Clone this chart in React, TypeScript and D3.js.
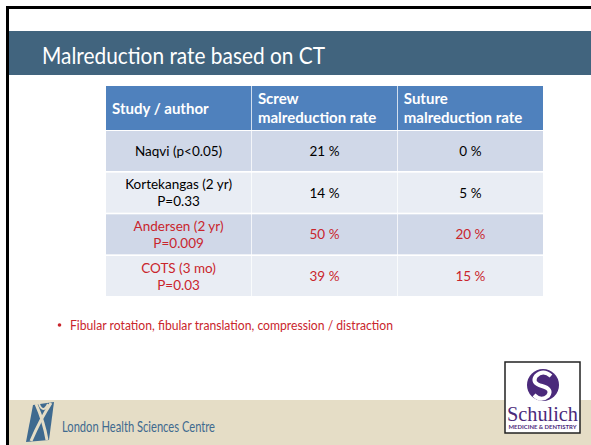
import React from 'react';
import * as d3 from 'd3';

const W = 591;
const H = 445;

// table content
const headers = ['Study / author', 'Screw\nmalreduction rate', 'Suture\nmalreduction rate'];
const studies = ['Naqvi (p<0.05)', 'Kortekangas (2 yr)\nP=0.33', 'Andersen (2 yr)\nP=0.009', 'COTS (3 mo)\nP=0.03'];
const screwRates = [21, 14, 50, 39];
const sutureRates = [0, 5, 20, 15];
const highlighted = [false, false, true, true];
const bullets = ['Fibular rotation, fibular translation, compression / distraction'];

const FONT = 'Lato, "Open Sans", sans-serif';
const RED = '#C9252C';

const App: React.FC = () => {
  const cols = d3.scaleBand<number>().domain([0, 1, 2]).range([106, 543]).paddingInner(0.005);
  const rows = d3.scaleBand<number>().domain(d3.range(studies.length)).range([131, 296]).paddingInner(0.04);
  const headerTop = 86;
  const headerBottom = 130;

  const cells = (i: number) => [studies[i], `${screwRates[i]} %`, `${sutureRates[i]} %`];

  return (
    <div style={{ position: 'fixed', left: 0, top: 0, width: W, height: H, background: '#fff' }}>
      <svg width={W} height={H} style={{ display: 'block' }} fontFamily={FONT}>
        <rect x={0} y={0} width={W} height={H} fill="#fff" />
        {/* slide frame */}
        <rect x={6} y={6} width={W} height={3} fill="#000" />
        <rect x={6} y={6} width={3} height={H} fill="#000" />

        {/* title band */}
        <rect x={9} y={31} width={W - 9} height={44} fill="#41647E" />
        <text x={42} y={64} fill="#fff" fontSize={23} textLength={283} lengthAdjust="spacingAndGlyphs">
          Malreduction rate based on CT
        </text>

        {/* table header */}
        {headers.map((h, c) => {
          const lines = h.split('\n');
          return (
            <g key={`h${c}`}>
              <rect x={cols(c)} y={headerTop} width={cols.bandwidth()} height={headerBottom - headerTop} fill="#4F81BD" />
              {lines.map((l, k) => (
                <text
                  key={k}
                  x={(cols(c) ?? 0) + 6}
                  y={lines.length === 1 ? 114 : 104 + k * 19}
                  fill="#fff"
                  fontWeight="bold"
                  fontSize={15}
                >
                  {l}
                </text>
              ))}
            </g>
          );
        })}

        {/* table body */}
        {studies.map((_, i) => {
          const y0 = rows(i) ?? 0;
          const bh = rows.bandwidth();
          const color = highlighted[i] ? RED : '#000';
          return (
            <g key={`r${i}`}>
              {cells(i).map((txt, c) => {
                const lines = txt.split('\n');
                const cx = (cols(c) ?? 0) + cols.bandwidth() / 2;
                return (
                  <g key={c}>
                    <rect x={cols(c)} y={y0} width={cols.bandwidth()} height={bh} fill={i % 2 === 0 ? '#D0D8E8' : '#E9EDF4'} />
                    {lines.map((l, k) => (
                      <text
                        key={k}
                        x={cx}
                        y={y0 + bh / 2 + 5 + (k - (lines.length - 1) / 2) * 17}
                        textAnchor="middle"
                        fill={color}
                        fontSize={13.5}
                      >
                        {l}
                      </text>
                    ))}
                  </g>
                );
              })}
            </g>
          );
        })}

        {/* bullet */}
        {bullets.map((b, i) => (
          <g key={`b${i}`}>
            <circle cx={59.5} cy={325} r={1.8} fill={RED} />
            <text x={70} y={330} fill={RED} fontSize={13.5} textLength={323} lengthAdjust="spacingAndGlyphs">
              {b}
            </text>
          </g>
        ))}

        {/* footer */}
        <rect x={9} y={400} width={W - 9} height={H - 400} fill="#E5DDC6" />
        {/* LHSC logo mark */}
        <g>
          <path d="M33,405 L54,402 L49,440 L26,442 Z" fill="#3F6A8F" />
          <path d="M36,404 Q44,422 47,440" stroke="#E5DDC6" strokeWidth={3} fill="none" />
          <path d="M51,403 Q40,420 31,441" stroke="#E5DDC6" strokeWidth={3} fill="none" />
          <path d="M39,404 Q43,414 48,404" stroke="#E5DDC6" strokeWidth={2} fill="none" />
        </g>
        <text x={62} y={432} fill="#3F6A8F" fontSize={15} textLength={153} lengthAdjust="spacingAndGlyphs">
          London Health Sciences Centre
        </text>

        {/* Schulich logo */}
        <rect x={505} y={362} width={75} height={71} fill="#fff" stroke="#222" strokeWidth={1.5} />
        <circle cx={543} cy={385} r={16} fill="#4B2A7B" />
        <path d="M551,376 Q543,369 536,376 Q531,383 542,386 Q553,389 548,396 Q541,402 534,395" stroke="#fff" strokeWidth={4} fill="none" />
        <text x={542.5} y={421} textAnchor="middle" fill="#4B2A7B" fontSize={20} fontFamily="'Liberation Serif', serif" textLength={71} lengthAdjust="spacingAndGlyphs">
          Schulich
        </text>
        <text x={542.5} y={429} textAnchor="middle" fill="#4B2A7B" fontSize={5} fontWeight="bold" textLength={68} lengthAdjust="spacingAndGlyphs">
          MEDICINE &amp; DENTISTRY
        </text>
      </svg>
    </div>
  );
};

export default App;
